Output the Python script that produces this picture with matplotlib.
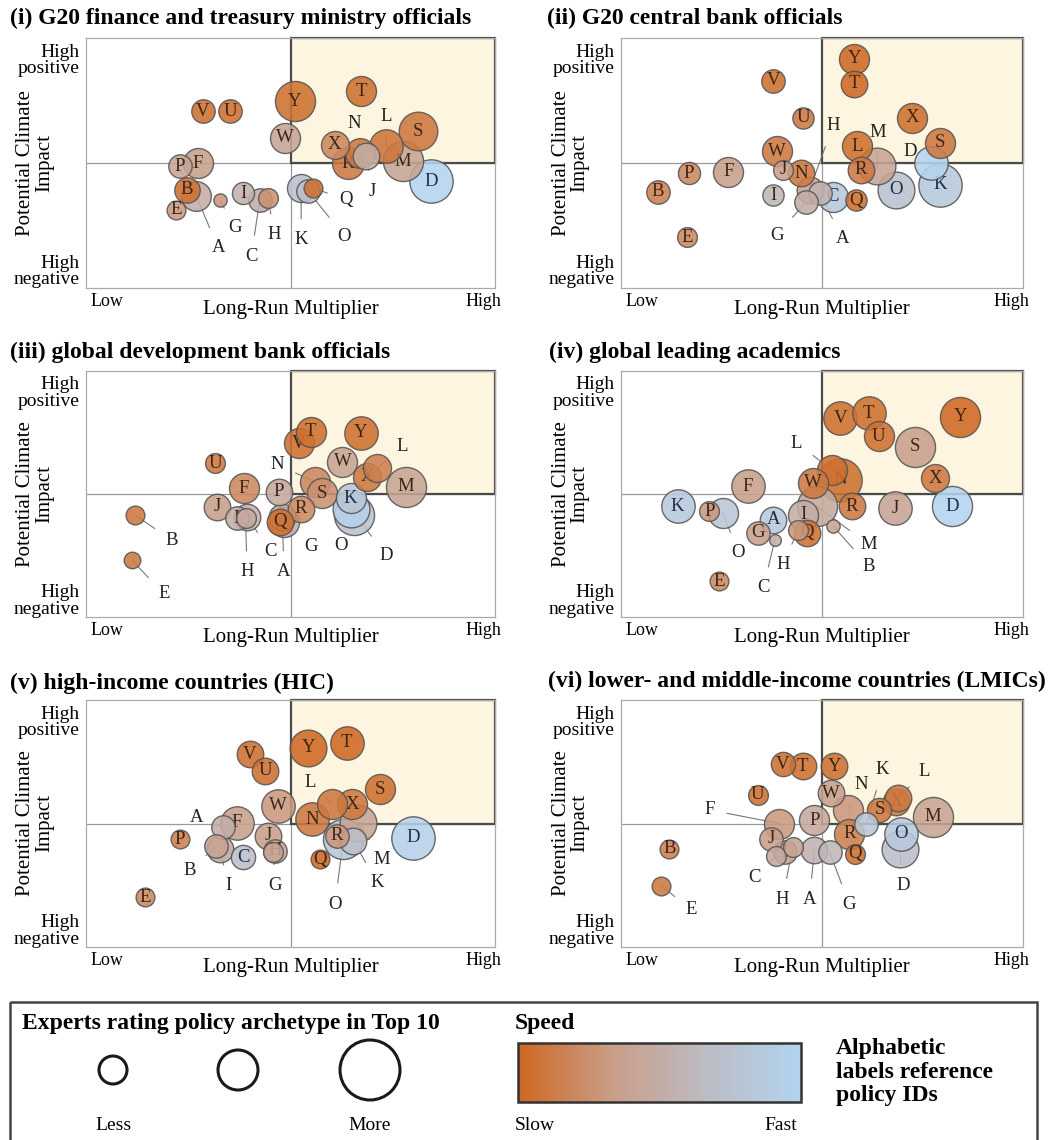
import numpy as np
import matplotlib.pyplot as plt
from matplotlib.colors import LinearSegmentedColormap
from matplotlib.patches import Rectangle, Circle

plt.rcParams['font.family'] = ['Liberation Serif', 'DejaVu Serif']

W, H = 1051, 1140
letters = list('ABCDEFGHIJKLMNOPQRSTUVWXY')

# x: long-run multiplier (0 low .. 10 high), y: climate impact (-5 .. 5)
# n: experts rating in top 10 (bubble area), sp: speed (0 slow .. 1 fast)

# (i) G20 finance and treasury ministry officials
x1 = [2.70, 2.46, 4.25, 8.44, 2.21, 2.74, 3.27, 4.45, 3.84, 6.85, 5.26, 7.34, 7.75,
      6.69, 5.43, 2.29, 5.55, 6.40, 8.11, 6.73, 3.52, 2.86, 4.86, 6.08, 5.10]
y1 = [-1.33, -1.07, -1.47, -0.73, -1.87, 0.00, -1.47, -1.40, -1.20, 0.27, -1.00, 0.67, 0.07,
      0.40, -1.13, -0.13, -1.00, 0.00, 1.27, 2.87, 2.07, 2.07, 1.00, 0.73, 2.47]
n1 = [4.5, 3.3, 2.8, 9.6, 1.8, 4.6, 0.9, 2.0, 2.5, 3.6, 4.0, 5.7, 8.2,
      4.5, 2.8, 2.8, 1.8, 5.2, 7.6, 4.6, 2.8, 2.8, 4.6, 4.0, 8.2]
sp1 = [0.5, 0.05, 0.5, 1.0, 0.3, 0.35, 0.3, 0.25, 0.55, 0.5, 0.75, 0.08, 0.4,
       0.1, 0.7, 0.4, 0.05, 0.1, 0.1, 0.05, 0.05, 0.05, 0.4, 0.2, 0.05]

# (ii) G20 central bank officials
x2 = [4.94, 0.91, 5.27, 7.70, 1.65, 2.67, 4.61, 4.69, 3.79, 4.03, 7.94, 5.88, 6.38,
      4.49, 6.83, 1.69, 5.84, 5.97, 7.94, 5.80, 4.53, 3.79, 3.87, 7.24, 5.80]
y2 = [-1.21, -1.14, -1.34, 0.00, -2.96, -0.34, -1.55, -1.08, -1.28, -0.27, -0.87, 0.67, -0.13,
      -0.40, -1.08, -0.40, -1.48, -0.27, 0.81, 3.16, 1.81, 3.29, 0.47, 1.81, 4.17]
n2 = [2.8, 2.8, 4.6, 5.7, 2.0, 4.6, 2.8, 3.6, 2.3, 2.0, 9.6, 4.6, 6.9,
      3.6, 6.9, 2.5, 2.3, 3.6, 4.6, 3.6, 2.3, 2.8, 4.6, 4.6, 4.6]
sp2 = [0.55, 0.15, 0.85, 1.0, 0.2, 0.35, 0.5, 0.4, 0.6, 0.35, 0.85, 0.05, 0.4,
       0.1, 0.75, 0.2, 0.05, 0.1, 0.1, 0.0, 0.1, 0.05, 0.1, 0.05, 0.0]

# (iii) global development bank officials
x3 = [4.80, 1.20, 3.94, 6.47, 1.12, 3.86, 4.84, 3.90, 3.69, 3.20, 6.47, 7.12, 7.82,
      5.61, 6.55, 4.71, 4.75, 5.25, 5.78, 5.49, 3.16, 5.20, 6.27, 6.88, 6.72]
y3 = [-0.93, -0.86, -0.93, -0.59, -2.69, 0.23, -1.13, -0.99, -0.99, -0.52, -0.18, 1.05, 0.30,
      0.50, -0.86, 0.10, -1.13, -0.59, 0.03, 2.54, 1.25, 2.07, 1.32, 0.71, 2.48]
n3 = [3.6, 1.8, 3.6, 6.9, 1.4, 4.6, 4.6, 2.0, 2.8, 3.6, 4.6, 4.0, 8.2,
      4.6, 8.2, 3.6, 3.6, 3.6, 4.6, 4.6, 2.0, 4.6, 4.6, 4.0, 5.7]
sp3 = [0.4, 0.1, 0.55, 0.95, 0.1, 0.2, 0.5, 0.45, 0.5, 0.35, 0.8, 0.15, 0.4,
       0.2, 0.75, 0.45, 0.05, 0.2, 0.25, 0.05, 0.1, 0.05, 0.4, 0.1, 0.05]

# (iv) global leading academics
x4 = [3.79, 5.28, 3.83, 8.24, 2.45, 3.16, 3.41, 4.41, 4.53, 6.82, 1.41, 5.24, 4.87,
      5.45, 2.54, 2.20, 4.62, 5.74, 7.32, 6.16, 6.41, 5.45, 4.78, 7.82, 8.44]
y4 = [-1.04, -1.31, -1.85, -0.50, -3.54, 0.31, -1.58, -1.45, -0.84, -0.57, -0.50, 0.99, -0.50,
      0.58, -0.77, -0.70, -1.58, -0.50, 1.93, 3.28, 2.34, 3.08, 0.45, 0.65, 3.15]
n4 = [3.6, 0.9, 0.7, 8.2, 1.8, 5.7, 2.8, 2.0, 4.6, 5.7, 5.7, 4.6, 8.2,
      9.6, 4.6, 2.0, 3.6, 3.6, 8.2, 5.7, 4.6, 5.7, 4.6, 4.0, 8.2]
sp4 = [0.85, 0.4, 0.5, 1.0, 0.2, 0.35, 0.35, 0.3, 0.5, 0.4, 0.85, 0.05, 0.45,
       0.05, 0.8, 0.3, 0.05, 0.1, 0.35, 0.05, 0.05, 0.05, 0.1, 0.1, 0.0]

# (v) high-income countries (HIC)
x5 = [3.36, 3.19, 3.85, 8.00, 1.44, 3.68, 4.58, 4.62, 3.28, 4.46, 6.54, 6.01, 6.66,
      5.52, 6.29, 2.30, 5.72, 6.13, 7.19, 6.37, 4.38, 4.01, 4.70, 6.50, 5.44]
y5 = [-0.16, -0.90, -1.37, -0.57, -2.99, 0.04, -1.17, -1.10, -1.04, -0.50, -0.70, 0.78, 0.04,
      0.17, -0.63, -0.63, -1.44, -0.50, 1.39, 3.27, 2.13, 2.80, 0.71, 0.78, 3.07]
n5 = [2.8, 2.8, 3.0, 9.6, 1.8, 5.7, 2.0, 2.8, 3.6, 3.6, 3.6, 4.6, 6.9,
      5.7, 8.2, 1.8, 1.8, 2.8, 4.6, 5.7, 3.6, 3.6, 5.7, 4.6, 6.9]
sp5 = [0.5, 0.4, 0.7, 0.95, 0.2, 0.35, 0.4, 0.4, 0.45, 0.35, 0.7, 0.1, 0.4,
       0.1, 0.8, 0.15, 0.0, 0.3, 0.05, 0.0, 0.05, 0.05, 0.3, 0.1, 0.0]

# (vi) lower- and middle-income countries (LMICs)
x6 = [4.81, 1.20, 3.86, 6.93, 1.00, 3.94, 5.19, 4.27, 4.07, 3.73, 6.10, 6.89, 7.76,
      5.64, 6.97, 4.81, 5.81, 5.68, 6.43, 4.52, 3.40, 4.02, 5.23, 6.85, 5.31]
y6 = [-1.09, -1.02, -1.30, -1.02, -2.52, 0.00, -1.16, -0.95, -1.16, -0.61, 0.00, 1.02, 0.27,
      0.55, -0.41, 0.14, -1.23, -0.41, 0.55, 2.32, 1.16, 2.39, 1.23, 0.89, 2.32]
n6 = [3.6, 1.8, 2.0, 6.9, 1.8, 4.6, 2.8, 2.0, 2.8, 2.8, 2.8, 3.6, 8.2,
      4.6, 5.7, 4.6, 2.0, 4.6, 3.0, 3.6, 2.0, 3.0, 3.6, 3.6, 3.6]
sp6 = [0.55, 0.15, 0.45, 0.7, 0.1, 0.3, 0.6, 0.4, 0.4, 0.35, 0.8, 0.1, 0.4,
       0.3, 0.85, 0.45, 0.05, 0.15, 0.1, 0.05, 0.05, 0.05, 0.35, 0.1, 0.05]

titles = ['(i) G20 finance and treasury ministry officials',
          '(ii) G20 central bank officials',
          '(iii) global development bank officials',
          '(iv) global leading academics',
          '(v) high-income countries (HIC)',
          '(vi) lower- and middle-income countries (LMICs)']

# where a letter sits away from its bubble, with a leader line
callouts = [
    {'A': (3.23, -3.4), 'C': (4.04, -3.73), 'G': (3.64, -2.6), 'H': (4.61, -2.87),
     'J': (7.01, -1.13), 'K': (5.26, -3.07), 'L': (7.34, 1.87), 'N': (6.57, 1.6),
     'O': (6.32, -2.93), 'Q': (6.36, -1.47)},
    {'A': (5.51, -3.02), 'D': (7.2, 0.47), 'G': (3.87, -2.89), 'H': (5.27, 1.48),
     'M': (6.38, 1.21)},
    {'A': (4.84, -3.17), 'B': (2.1, -1.88), 'C': (4.51, -2.35), 'D': (7.33, -2.49),
     'E': (1.9, -4.05), 'G': (5.49, -2.15), 'H': (3.94, -3.17), 'L': (7.74, 1.93),
     'N': (4.67, 1.18), 'O': (6.23, -2.08)},
    {'B': (6.16, -2.93), 'C': (3.54, -3.81), 'H': (4.03, -2.86), 'L': (4.37, 2.07),
     'M': (6.16, -2.05), 'O': (2.91, -2.39)},
    {'A': (2.71, 0.24), 'B': (2.54, -1.91), 'G': (4.62, -2.52), 'I': (3.48, -2.52),
     'K': (7.11, -2.38), 'L': (5.48, 1.66), 'M': (7.23, -1.44), 'O': (6.09, -3.26)},
    {'A': (4.69, -3.07), 'C': (3.32, -2.18), 'D': (7.01, -2.52), 'E': (1.74, -3.48),
     'F': (2.2, 0.55), 'G': (5.68, -3.27), 'H': (4.02, -3.07), 'K': (6.51, 2.18),
     'L': (7.55, 2.11), 'N': (5.98, 1.57)},
]

panels = [(x1, y1, n1, sp1), (x2, y2, n2, sp2), (x3, y3, n3, sp3),
          (x4, y4, n4, sp4), (x5, y5, n5, sp5), (x6, y6, n6, sp6)]

speed_cmap = LinearSegmentedColormap.from_list(
    'speed', ['#cf6822', '#c99e88', '#bdbcc4', '#b3d4f0'])

fig = plt.figure(figsize=(W / 100, H / 100), dpi=100)

cols = [(86, 495), (621, 1023)]
rows = [(38, 288), (371, 617), (700, 947)]
title_pos = [(10, 18), (547, 18), (10, 352), (549, 352), (10, 683), (548, 681)]

for i, (xs, ys, ns, sps) in enumerate(panels):
    l, r = cols[i % 2]
    t, b = rows[i // 2]
    ax = fig.add_axes([l / W, 1 - b / H, (r - l) / W, (b - t) / H])
    ax.set_xlim(0, 10)
    ax.set_ylim(-5, 5)
    ax.set_xticks([])
    ax.set_yticks([])
    for s in ax.spines.values():
        s.set_color('#aaaaaa')
        s.set_linewidth(0.9)
    ax.axvline(5, color='#999999', lw=0.9, zorder=0)
    ax.axhline(0, color='#999999', lw=0.9, zorder=0)
    ax.add_patch(Rectangle((5, 0), 5, 5, facecolor='#fdf5df', edgecolor='#4a4a4a',
                           lw=1.6, zorder=0.5, clip_on=False))

    order = np.argsort(ns)[::-1]
    for z, k in enumerate(order):
        col = speed_cmap(sps[k])
        ax.scatter(xs[k], ys[k], s=101.6 * ns[k], color=col, alpha=0.88,
                   edgecolor='#555555', linewidth=1.0, zorder=3 + z)
        lab = letters[k]
        if lab in callouts[i]:
            lx, ly = callouts[i][lab]
            ax.annotate(lab, xy=(xs[k], ys[k]), xytext=(lx, ly), fontsize=13.5,
                        ha='center', va='center', color='#222222', zorder=2,
                        arrowprops=dict(arrowstyle='-', color='#777777', lw=0.8,
                                        shrinkA=7, shrinkB=0))
        else:
            ax.text(xs[k], ys[k], lab, fontsize=13.5, ha='center', va='center',
                    color='#3a2618' if sps[k] < 0.7 else '#1e2e48', zorder=3 + z)

    ax.text(-0.015, 0.91, 'High\npositive', transform=ax.transAxes, ha='right',
            va='center', fontsize=14, linespacing=0.95)
    ax.text(-0.015, 0.065, 'High\nnegative', transform=ax.transAxes, ha='right',
            va='center', fontsize=14, linespacing=0.95)
    ax.text(0.01, -0.055, 'Low', transform=ax.transAxes, ha='left', va='center',
            fontsize=13)
    ax.text(1.015, -0.055, 'High', transform=ax.transAxes, ha='right', va='center',
            fontsize=13)
    ax.text(0.5, -0.085, 'Long-Run Multiplier', transform=ax.transAxes,
            ha='center', va='center', fontsize=15)
    ax.text(-0.125, 0.5, 'Potential Climate\nImpact', transform=ax.transAxes,
            rotation=90, ha='center', va='center', fontsize=15, linespacing=1.0,
            multialignment='center')
    tx, ty = title_pos[i]
    fig.text(tx / W, 1 - ty / H, titles[i], ha='left', va='center',
             fontsize=17, fontweight='bold')

# legend panel drawn in pixel coordinates
lg = fig.add_axes([0, 0, 1, 1])
lg.patch.set_alpha(0)
lg.axis('off')
lg.add_patch(Rectangle((10, 1002), 1027, 160, fill=False, edgecolor='#444444', lw=1.8))
lg.text(22, 1023, 'Experts rating policy archetype in Top 10', fontsize=17,
        fontweight='bold', ha='left', va='center')
for cx, rad in zip([113, 238, 370], [14, 20, 30]):
    lg.add_patch(Circle((cx, 1070), rad, fill=False, edgecolor='#1a1a1a', lw=2.2))
lg.text(113, 1125, 'Less', fontsize=14, ha='center', va='center')
lg.text(370, 1125, 'More', fontsize=14, ha='center', va='center')
lg.text(515, 1023, 'Speed', fontsize=17, fontweight='bold', ha='left', va='center')
grad = np.linspace(0, 1, 256).reshape(1, -1)
lg.imshow(grad, cmap=speed_cmap, extent=[518, 801, 1102, 1043], aspect='auto', zorder=1)
lg.add_patch(Rectangle((518, 1043), 283, 59, fill=False, edgecolor='#333333', lw=1.8, zorder=2))
lg.text(515, 1125, 'Slow', fontsize=14, ha='left', va='center')
lg.text(797, 1125, 'Fast', fontsize=14, ha='right', va='center')
lg.text(836, 1072, 'Alphabetic\nlabels reference\npolicy IDs', fontsize=17,
        fontweight='bold', ha='left', va='center', linespacing=1.15)
lg.set_xlim(0, W)
lg.set_ylim(H, 0)

fig.savefig('out.png', dpi=100, facecolor='white')
